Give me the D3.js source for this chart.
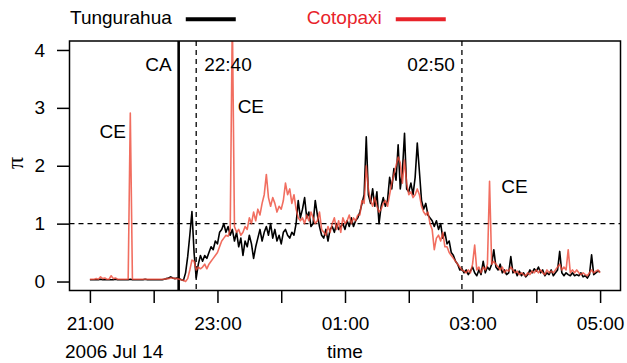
<!DOCTYPE html>
<html>
<head>
<meta charset="utf-8">
<script src="https://cdn.jsdelivr.net/npm/d3@7"></script>
<style>
  body { margin: 0; background: #fff; }
  svg { font-family: "Liberation Sans", Arial, Helvetica, sans-serif; }
</style>
</head>
<body>
<div id="chart"></div>
<script>
//////////////////////////////////////////////////////////////////////////////
// Data: tremor ratio pi, sampled every 2 minutes from 21:00 (2006 Jul 14)

const start = Date.UTC(2006, 6, 14, 21, 0);
const stepMin = 2;

const tungurahua = [
  0.03, 0.03, 0.03, 0.03, 0.03, 0.04, 0.03, 0.03, 0.03, 0.03,
  0.03, 0.03, 0.04, 0.03, 0.03, 0.03, 0.03, 0.03, 0.03, 0.04,
  0.03, 0.03, 0.03, 0.03, 0.03, 0.03, 0.04, 0.03, 0.03, 0.03,
  0.03, 0.03, 0.03, 0.03, 0.03, 0.04, 0.05, 0.06, 0.08, 0.06,
  0.05, 0.06, 0.05, 0.03, 0.02, 0.15, 0.43, 0.8, 1.21, 0.5,
  0.06, 0.3, 0.45, 0.35, 0.45, 0.4, 0.5, 0.6, 0.55, 0.7,
  0.65, 0.85, 0.9, 1.0, 0.85, 0.95, 0.8, 0.9, 0.7, 0.85,
  0.6, 0.75, 0.45, 0.7, 0.6, 0.8, 0.65, 0.4, 0.6, 0.75,
  0.9, 0.7, 0.85, 0.95, 0.8, 1.0, 0.75, 0.9, 0.7, 0.8,
  0.65, 0.85, 0.9, 0.8, 0.75, 0.85, 0.8, 1.0, 1.4, 1.1,
  1.25, 1.45, 1.1, 1.2, 0.95, 1.0, 1.4, 1.15, 0.95, 0.8,
  0.75, 0.9, 0.7, 0.9, 0.95, 0.85, 1.0, 0.9, 0.95, 1.0,
  0.9, 1.05, 0.95, 1.1, 0.95, 1.05, 1.1, 1.2, 1.35, 1.5,
  2.5, 1.5, 1.35, 1.6, 1.3, 1.55, 1.0, 1.3, 1.45, 1.3,
  1.4, 1.8, 1.6, 1.95, 1.75, 2.36, 1.6, 1.9, 2.56, 1.6,
  1.55, 1.7, 1.5, 1.8, 2.39, 1.9, 1.4, 1.25, 1.35, 1.15,
  1.1, 1.05, 0.95, 1.05, 0.9, 1.0, 0.75, 0.85, 0.65, 0.7,
  0.5, 0.45, 0.35, 0.3, 0.2, 0.22, 0.15, 0.2, 0.12, 0.18,
  0.25, 0.15, 0.1, 0.2, 0.12, 0.35, 0.15, 0.25, 0.2, 0.3,
  0.55, 0.25, 0.2, 0.3, 0.15, 0.2, 0.12, 0.15, 0.43, 0.15,
  0.2, 0.1, 0.18, 0.1, 0.15, 0.08, 0.12, 0.2, 0.15, 0.22,
  0.18, 0.25, 0.15, 0.2, 0.1, 0.15, 0.12, 0.2, 0.1, 0.15,
  0.2, 0.52, 0.15, 0.1, 0.15, 0.12, 0.1, 0.15, 0.1, 0.12,
  0.1, 0.15, 0.08, 0.1, 0.06, 0.12, 0.46, 0.12, 0.15, 0.18,
  0.17
];

const cotopaxi = [
  0.04, 0.04, 0.04, 0.05, 0.04, 0.08, 0.05, 0.06, 0.04, 0.04,
  0.1, 0.05, 0.06, 0.04, 0.04, 0.04, 0.04, 0.04, 0.04, 2.91,
  0.04, 0.04, 0.04, 0.04, 0.04, 0.04, 0.04, 0.04, 0.04, 0.04,
  0.04, 0.04, 0.04, 0.04, 0.04, 0.04, 0.05, 0.05, 0.06, 0.06,
  0.05, 0.05, 0.04, 0.03, 0.02, 0.0, 0.05, 0.2, 0.37, 0.35,
  0.2, 0.25, 0.22, 0.25, 0.3, 0.22, 0.3, 0.35, 0.4, 0.45,
  0.5, 0.6, 0.7, 0.75, 0.8, 0.78, 0.9, 4.6, 0.95, 0.85,
  0.9, 0.8, 0.85, 0.95, 0.9, 1.1, 1.0, 1.2, 1.05, 1.25,
  1.15, 1.35, 1.5, 1.85, 1.45, 1.3, 1.45, 1.35, 1.2, 1.3,
  1.25, 1.4, 1.7, 1.5, 1.6, 1.35, 1.5, 1.25, 1.1, 1.05,
  1.1, 1.0, 1.15, 1.05, 1.2, 1.1, 1.0, 1.05, 1.2, 0.9,
  0.85, 0.8, 0.95, 0.85, 1.0, 1.1, 0.9, 1.05, 0.85, 1.1,
  1.0, 1.05, 1.15, 1.0, 1.1, 1.05, 1.15, 1.15, 1.4, 1.35,
  2.0, 1.6, 1.4, 1.3, 1.45, 1.3, 1.2, 1.25, 1.35, 1.4,
  1.3, 1.5, 1.7, 1.85, 2.0, 2.15, 2.05, 1.7, 2.1, 1.7,
  1.5, 1.55, 1.45, 1.5, 1.6, 1.5, 1.3, 1.2, 1.15, 1.2,
  1.0, 0.9, 0.55, 0.75, 0.8, 0.7, 0.85, 0.6, 0.6, 0.5,
  0.45, 0.4, 0.35, 0.3, 0.25, 0.2, 0.18, 0.15, 0.2, 0.15,
  0.3, 0.63, 0.2, 0.25, 0.15, 0.25, 0.2, 0.3, 1.73, 0.3,
  0.35, 0.3, 0.25, 0.2, 0.25, 0.15, 0.2, 0.18, 0.25, 0.2,
  0.15, 0.18, 0.12, 0.15, 0.12, 0.1, 0.15, 0.12, 0.18, 0.15,
  0.2, 0.15, 0.2, 0.15, 0.12, 0.2, 0.15, 0.18, 0.15, 0.2,
  0.25, 0.3, 0.2, 0.25, 0.2, 0.55, 0.15, 0.2, 0.15, 0.2,
  0.15, 0.12, 0.15, 0.12, 0.1, 0.15, 0.2, 0.15, 0.18, 0.2,
  0.15
];

const seriesNames = ["Tungurahua", "Cotopaxi"];
const seriesColors = ["#000000", "#e8232a"];

// event markers (minutes after 21:00)
const vlines = [
  { min: 83.5, label: "CA", dash: null, side: "left" },
  { min: 100, label: "22:40", dash: "5,4", side: "right" },
  { min: 350, label: "02:50", dash: "5,4", side: "left" }
];
// CE labels: [minute, value] of the annotation anchor
const ceLabels = [[9, 2.6], [139, 3.03], [387, 1.65]];

const yTicks = [0, 1, 2, 3, 4];

//////////////////////////////////////////////////////////////////////////////
// Layout

const width = 627;
const height = 363;
const box = { left: 69.5, right: 620.5, top: 41, bottom: 290.5 };

const t = i => new Date(start + i * stepMin * 60000);
const tMin = m => new Date(start + m * 60000);

const x = d3.scaleUtc()
    .domain([tMin(-19.2), tMin(499.2)])
    .range([box.left, box.right]);
const y = d3.scaleLinear()
    .domain([-0.155, 4.155])
    .range([box.bottom, box.top]);

const svg = d3.select("#chart").append("svg")
    .attr("width", width)
    .attr("height", height);

svg.append("clipPath").attr("id", "clip")
  .append("rect")
    .attr("x", box.left).attr("y", box.top)
    .attr("width", box.right - box.left)
    .attr("height", box.bottom - box.top);

const plot = svg.append("g").attr("clip-path", "url(#clip)");

// horizontal reference at pi = 1
plot.append("line")
    .attr("x1", box.left).attr("x2", box.right)
    .attr("y1", y(1)).attr("y2", y(1))
    .attr("stroke", "#000").attr("stroke-width", 1.3)
    .attr("stroke-dasharray", "5,4");

vlines.forEach(v => {
  plot.append("line")
      .attr("x1", x(tMin(v.min))).attr("x2", x(tMin(v.min)))
      .attr("y1", box.top).attr("y2", box.bottom)
      .attr("stroke", "#000")
      .attr("stroke-width", v.dash ? 1.3 : 2.6)
      .attr("stroke-dasharray", v.dash);
});

const line = d3.line()
    .x((d, i) => x(t(i)))
    .y(d => y(d));

plot.append("path")
    .datum(tungurahua)
    .attr("fill", "none")
    .attr("stroke", seriesColors[0])
    .attr("stroke-width", 1.6)
    .attr("stroke-linejoin", "round")
    .attr("d", line);

plot.append("path")
    .datum(cotopaxi)
    .attr("fill", "none")
    .attr("stroke", "#ee4a38")
    .attr("stroke-opacity", 0.8)
    .attr("stroke-width", 1.6)
    .attr("stroke-linejoin", "round")
    .attr("d", line);

// text annotations
const fs = 19;
vlines.forEach(v => {
  svg.append("text")
      .attr("x", x(tMin(v.min)) + (v.side === "left" ? -7 : 8))
      .attr("y", 70.5)
      .attr("text-anchor", v.side === "left" ? "end" : "start")
      .style("font-size", fs + "px")
      .text(v.label);
});

ceLabels.forEach(([m, val]) => {
  svg.append("text")
      .attr("x", x(tMin(m)))
      .attr("y", y(val))
      .attr("text-anchor", "start")
      .attr("dy", "0.35em")
      .style("font-size", fs + "px")
      .text("CE");
});

// box
svg.append("rect")
    .attr("x", box.left).attr("y", box.top)
    .attr("width", box.right - box.left)
    .attr("height", box.bottom - box.top)
    .attr("fill", "none")
    .attr("stroke", "#000")
    .attr("stroke-width", 1.5);

// axes
const xAxis = d3.axisBottom(x)
    .tickValues(d3.utcHour.range(tMin(0), tMin(481)))
    .tickSize(12.5)
    .tickPadding(14)
    .tickFormat(d => d.getUTCHours() % 2 === 1 ? d3.utcFormat("%H:%M")(d) : "");

svg.append("g")
    .attr("transform", `translate(0,${box.bottom})`)
    .call(xAxis)
    .call(g => g.select(".domain").remove())
    .call(g => g.selectAll(".tick line").attr("stroke-width", 1.5))
    .call(g => g.selectAll(".tick text")
        .style("font-size", fs + "px")
        .style("font-family", "Liberation Sans, Arial, sans-serif")
        .attr("fill", "#000"));

const yAxis = d3.axisLeft(y)
    .tickValues(yTicks)
    .tickSize(12.5)
    .tickPadding(12)
    .tickFormat(d3.format("d"));

svg.append("g")
    .attr("transform", `translate(${box.left},0)`)
    .call(yAxis)
    .call(g => g.select(".domain").remove())
    .call(g => g.selectAll(".tick line").attr("stroke-width", 1.5))
    .call(g => g.selectAll(".tick text")
        .style("font-size", fs + "px")
        .style("font-family", "Liberation Sans, Arial, sans-serif")
        .attr("fill", "#000"));

// axis titles
svg.append("text")
    .attr("x", 65).attr("y", 358)
    .style("font-size", fs + "px")
    .text("2006 Jul 14");

svg.append("text")
    .attr("x", (box.left + box.right) / 2).attr("y", 358)
    .attr("text-anchor", "middle")
    .style("font-size", fs + "px")
    .text("time");

svg.append("text")
    .attr("transform", `translate(23,163) rotate(-90)`)
    .attr("text-anchor", "middle")
    .style("font-family", "Liberation Serif, DejaVu Serif, serif")
    .style("font-size", "24px")
    .text("π");

// legend
let lx = 70;
seriesNames.forEach((name, i) => {
  const txt = svg.append("text")
      .attr("x", lx).attr("y", 24)
      .attr("fill", seriesColors[i])
      .style("font-size", fs + "px")
      .text(name);
  const w = txt.node().getComputedTextLength();
  svg.append("line")
      .attr("x1", lx + w + 14).attr("x2", lx + w + 64)
      .attr("y1", 19.3).attr("y2", 19.3)
      .attr("stroke", seriesColors[i])
      .attr("stroke-width", 4);
  lx = lx + w + 64 + 71;
});
</script>
</body>
</html>
